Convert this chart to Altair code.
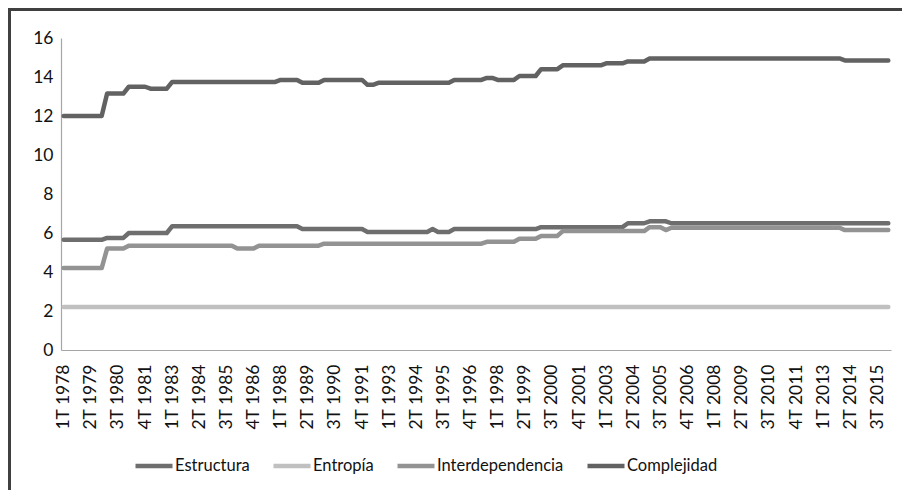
import altair as alt
import pandas as pd

# ---- categories ----
quarters = ["1T", "2T", "3T", "4T"]
years = list(range(1978, 2017))
n_periods = 153
periods = [f"{q} {y}" for y in years for q in quarters][:n_periods]

tick_labels = [
    "1T 1978", "2T 1979", "3T 1980", "4T 1981", "1T 1983", "2T 1984", "3T 1985",
    "4T 1986", "1T 1988", "2T 1989", "3T 1990", "4T 1991", "1T 1993", "2T 1994",
    "3T 1995", "4T 1996", "1T 1998", "2T 1999", "3T 2000", "4T 2001", "1T 2003",
    "2T 2004", "3T 2005", "4T 2006", "1T 2008", "2T 2009", "3T 2010", "4T 2011",
    "1T 2013", "2T 2014", "3T 2015",
]
y_ticks = [0, 2, 4, 6, 8, 10, 12, 14, 16]

series_names = ["Estructura", "Entropía", "Interdependencia", "Complejidad"]
series_colors = ["#6e6e6e", "#c0c0c0", "#939393", "#626262"]

# ---- values (read as step levels: value held for N quarters) ----
estructura_levels = [5.65, 5.75, 6.0, 6.35, 6.2, 6.05, 6.2, 6.05, 6.2, 6.3, 6.5, 6.6, 6.5]
estructura_quarters = [8, 4, 8, 24, 12, 12, 1, 3, 16, 16, 4, 4, 41]

entropia_levels = [2.2]
entropia_quarters = [153]

interdependencia_levels = [4.2, 5.2, 5.35, 5.2, 5.35, 5.45, 5.55, 5.7, 5.85, 6.1, 6.3, 6.15, 6.27, 6.15]
interdependencia_quarters = [8, 4, 20, 4, 12, 30, 6, 4, 4, 16, 3, 1, 32, 9]

complejidad_levels = [12.0, 13.15, 13.5, 13.4, 13.75, 13.85, 13.7, 13.85, 13.6, 13.7,
                      13.85, 13.95, 13.85, 14.05, 14.4, 14.6, 14.7, 14.8, 14.95, 14.85]
complejidad_quarters = [8, 4, 4, 4, 20, 4, 4, 8, 2, 14, 6, 2, 4, 4, 4, 8, 4, 4, 36, 9]


def expand(levels, counts):
    out = []
    for v, c in zip(levels, counts):
        out.extend([v] * c)
    return out


series_values = {
    "Estructura": expand(estructura_levels, estructura_quarters),
    "Entropía": expand(entropia_levels, entropia_quarters),
    "Interdependencia": expand(interdependencia_levels, interdependencia_quarters),
    "Complejidad": expand(complejidad_levels, complejidad_quarters),
}

rows = []
for s in series_names:
    for i, (p, v) in enumerate(zip(periods, series_values[s])):
        rows.append({"periodo": p, "serie": s, "valor": v, "i": i})
df = pd.DataFrame(rows)

FONT = "Lato"

lines = alt.Chart(df).mark_line(
    strokeWidth=4.5, strokeJoin="round", strokeCap="round"
).encode(
    x=alt.X(
        "periodo:N",
        sort=periods,
        scale=alt.Scale(type="point", padding=0.5),
        axis=alt.Axis(
            values=tick_labels, labelAngle=270, title=None, ticks=False, tickSize=0,
            grid=False, domainColor="#a6a6a6", domainWidth=1.2, labelPadding=14,
            labelFontSize=17.5, labelFont=FONT, labelColor="#111111", labelOverlap=False,
        ),
    ),
    y=alt.Y(
        "valor:Q",
        scale=alt.Scale(domain=[0, 16], nice=False),
        axis=alt.Axis(
            values=y_ticks, title=None, ticks=False, tickSize=0, grid=False,
            domainColor="#a6a6a6", domainWidth=1.2, labelPadding=8,
            labelFontSize=17.5, labelFont=FONT, labelColor="#111111",
        ),
    ),
    color=alt.Color(
        "serie:N",
        sort=series_names,
        scale=alt.Scale(domain=series_names, range=series_colors),
        legend=alt.Legend(
            orient="none", legendX=72, legendY=407, direction="horizontal",
            title=None, symbolType="stroke", symbolSize=1369, symbolStrokeWidth=4.5,
            labelFontSize=16.5, labelFont=FONT, labelColor="#111111",
            columnPadding=14, labelOffset=0,
        ),
    ),
    detail="serie:N",
    order="i:Q",
)

frame_src = pd.DataFrame({"k": [0]})
frame_left = alt.Chart(frame_src).mark_rule(
    stroke="#404040", strokeWidth=3, clip=False
).encode(x=alt.value(-51.5), y=alt.value(-28.5), y2=alt.value(480))
frame_top = alt.Chart(frame_src).mark_rule(
    stroke="#404040", strokeWidth=3, clip=False
).encode(x=alt.value(-53), x2=alt.value(860), y=alt.value(-28.5))

chart = alt.layer(frame_left, frame_top, lines).properties(
    width=830,
    height=312,
    autosize=alt.AutoSizeParams(type="none"),
    padding={"left": 53, "top": 30, "right": 11, "bottom": 140},
).configure_view(stroke=None)

chart.save("out.html", embed_options={"renderer": "svg", "actions": False})
